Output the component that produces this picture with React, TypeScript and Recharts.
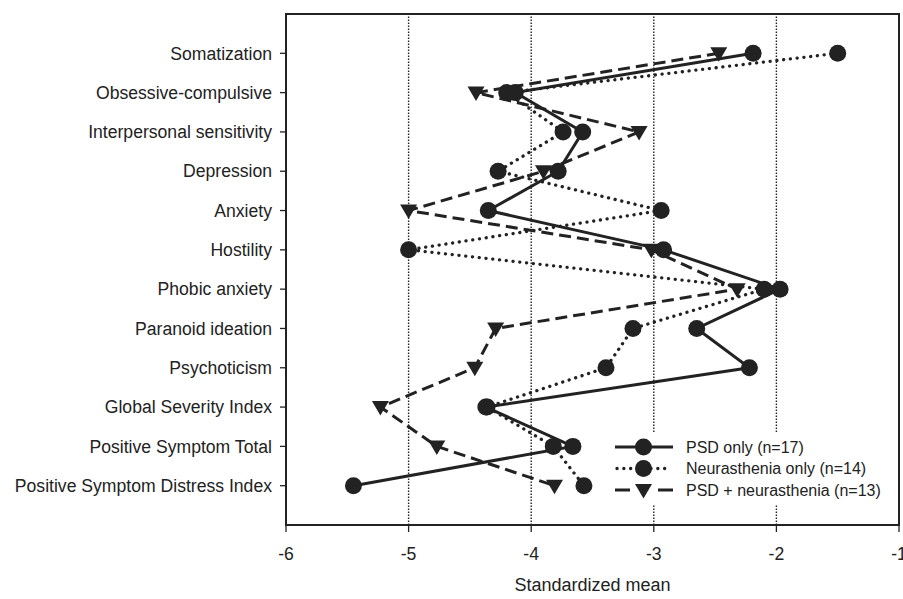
import React from 'react';
import { LineChart, Line, XAxis, YAxis, ReferenceLine, ReferenceArea, Legend } from 'recharts';

const categories = [
  'Somatization',
  'Obsessive-compulsive',
  'Interpersonal sensitivity',
  'Depression',
  'Anxiety',
  'Hostility',
  'Phobic anxiety',
  'Paranoid ideation',
  'Psychoticism',
  'Global Severity Index',
  'Positive Symptom Total',
  'Positive Symptom Distress Index',
];
const psdOnly = [-2.19, -4.13, -3.58, -3.78, -4.35, -2.92, -1.97, -2.65, -2.22, -4.37, -3.66, -5.45];
const neurOnly = [-1.5, -4.2, -3.74, -4.27, -2.94, -5.0, -2.1, -3.17, -3.39, -4.36, -3.82, -3.57];
const psdNeur = [-2.47, -4.45, -3.12, -3.9, -5.0, -3.02, -2.32, -4.29, -4.46, -5.23, -4.77, -3.81];
const xTicks = [-6, -5, -4, -3, -2, -1];
const gridValues = [-5, -4, -3, -2];
const seriesNames = ['PSD only (n=17)', 'Neurasthenia only (n=14)', 'PSD + neurasthenia (n=13)'];

const INK = '#222222';
const FONT = '"Liberation Sans", Arial, sans-serif';

// position along the category axis (the vertical numeric axis runs top-down in this layout)
const data = categories.map((c, i) => ({
  pos: i + 1,
  name: c,
  psdOnly: psdOnly[i],
  neurOnly: neurOnly[i],
  psdNeur: psdNeur[i],
}));
const yTicks = data.map((d) => d.pos);
const labelAt = (v: number) => data.find((d) => d.pos === v)?.name ?? '';

const circleDot = (p: any) => (
  <circle key={`c-${p.dataKey}-${p.index}`} cx={p.cx} cy={p.cy} r={8.5} fill={INK} />
);
const triPoints = (cx: number, cy: number) =>
  `${cx - 8.5},${cy - 6} ${cx + 8.5},${cy - 6} ${cx},${cy + 8.5}`;
const triDot = (p: any) => (
  <polygon key={`t-${p.index}`} points={triPoints(p.cx, p.cy)} fill={INK} />
);

const renderLegend = () => {
  const rows = [0, 1, 2];
  return (
    <svg width={290} height={72} style={{ display: 'block' }}>
      {rows.map((i) => {
        const y = 15 + i * 21.5;
        return (
          <g key={i}>
            {i === 0 && <line x1={10} x2={68} y1={y} y2={y} stroke={INK} strokeWidth={3} />}
            {i === 1 && (
              <line x1={12} x2={62} y1={y} y2={y} stroke={INK} strokeWidth={3.3}
                strokeDasharray="0.1 6.7" strokeLinecap="round" />
            )}
            {i === 2 && (
              <line x1={10} x2={68} y1={y} y2={y} stroke={INK} strokeWidth={3}
                strokeDasharray="15 28" />
            )}
            {i < 2 ? (
              <circle cx={38.5} cy={y} r={8.5} fill={INK} />
            ) : (
              <polygon points={triPoints(38.5, y)} fill={INK} />
            )}
            <text x={81} y={y} dominantBaseline="central" fontSize={16} fill={INK}
              fontFamily={FONT}>
              {seriesNames[i]}
            </text>
          </g>
        );
      })}
    </svg>
  );
};

export default function App() {
  return (
    <div style={{ position: 'absolute', left: 0, top: 0, width: 903, height: 599, background: '#fff' }}>
      <LineChart
        width={903}
        height={599}
        data={data}
        layout="vertical"
        margin={{ top: 14, right: 4, bottom: 0, left: 0 }}
        style={{ fontFamily: FONT }}
      >
        <XAxis
          type="number"
          domain={[-6, -1]}
          ticks={xTicks}
          interval={0}
          height={74}
          tickSize={7}
          tickMargin={16}
          tick={{ fill: INK, fontSize: 17.6 }}
          axisLine={{ stroke: INK, strokeWidth: 2 }}
          tickLine={{ stroke: INK, strokeWidth: 1.3 }}
          allowDataOverflow
          label={{ value: 'Standardized mean', position: 'insideBottom', offset: 8, fill: INK, fontSize: 18 }}
        />
        <YAxis
          type="number"
          dataKey="pos"
          domain={[0, categories.length + 1]}
          ticks={yTicks}
          interval={0}
          width={286}
          tickSize={6}
          tickMargin={8}
          tickFormatter={labelAt}
          tick={{ fill: INK, fontSize: 17.6 }}
          axisLine={{ stroke: INK, strokeWidth: 2 }}
          tickLine={{ stroke: INK, strokeWidth: 1.3 }}
          allowDataOverflow
        />
        {gridValues.map((v) => (
          <ReferenceLine key={v} x={v} stroke={INK} strokeWidth={1.4} strokeDasharray="1.4 1.6" />
        ))}
        <ReferenceArea x1={-6} x2={-1} y1={0} y2={categories.length + 1} fill="none" fillOpacity={0} stroke={INK} strokeWidth={2} />
        <Line
          dataKey="neurOnly"
          name={seriesNames[1]}
          stroke={INK}
          strokeWidth={3.3}
          strokeDasharray="0.1 6.7"
          strokeLinecap="round"
          dot={circleDot}
          activeDot={false}
          isAnimationActive={false}
        />
        <Line
          dataKey="psdNeur"
          name={seriesNames[2]}
          stroke={INK}
          strokeWidth={3}
          strokeDasharray="12 6"
          dot={triDot}
          activeDot={false}
          isAnimationActive={false}
        />
        <Line
          dataKey="psdOnly"
          name={seriesNames[0]}
          stroke={INK}
          strokeWidth={3}
          dot={circleDot}
          activeDot={false}
          isAnimationActive={false}
        />
        <Legend
          layout="vertical"
          align="center"
          verticalAlign="middle"
          content={renderLegend}
          wrapperStyle={{ position: 'absolute', left: 605, top: 432, width: 290, height: 72, background: '#fff' }}
        />
      </LineChart>
    </div>
  );
}
